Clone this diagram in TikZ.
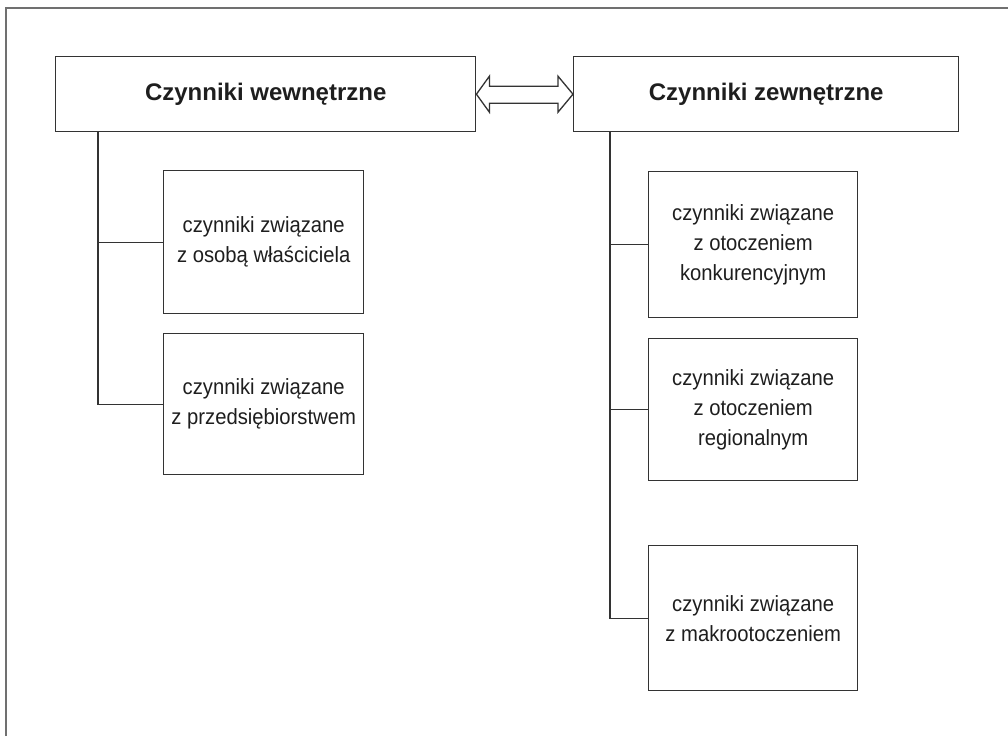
\documentclass[tikz,border=0pt]{standalone}
\usepackage{fontspec}
\setmainfont{Liberation Sans}
\newfontfamily\narrowsans[FakeStretch=0.92]{Liberation Sans}
\usetikzlibrary{calc}
\definecolor{linegray}{HTML}{333333}
\definecolor{textgray}{HTML}{1E1E1E}
\definecolor{framegray}{HTML}{707070}
\tikzset{
  head/.style={draw=linegray, line width=1.4pt, anchor=north west, inner sep=0pt,
    text=textgray, font=\fontsize{24}{28}\selectfont\bfseries, align=center},
  sub/.style={draw=linegray, line width=1.4pt, anchor=north west, inner sep=0pt,
    text=textgray, font=\narrowsans\fontsize{22}{30}\selectfont, align=center},
  link/.style={draw=linegray, line width=1.3pt},
  twoway/.style={draw=linegray, line width=1.3pt, fill=white, line join=miter}
}
\begin{document}
\begin{tikzpicture}[x=1pt,y=-1pt]
\useasboundingbox (0,0) rectangle (1008,736);
% outer frame, open to the right and bottom
\draw[framegray, line width=2pt] (6,736) -- (6,7.5) -- (1008,7.5);

% headers
\node[head, minimum width=420, minimum height=75] (hl) at (55,56) {Czynniki wewnętrzne};
\node[head, minimum width=385, minimum height=75] (hr) at (573,56) {Czynniki zewnętrzne};

% internal factors
\node[sub, minimum width=200, minimum height=143] (l1) at (163,170)
  {czynniki związane\\z osobą właściciela};
\node[sub, minimum width=200, minimum height=141] (l2) at (163,333)
  {czynniki związane\\z przedsiębiorstwem};

% external factors
\node[sub, minimum width=209, minimum height=146] (r1) at (648,171)
  {czynniki związane\\z otoczeniem\\konkurencyjnym};
\node[sub, minimum width=209, minimum height=142] (r2) at (648,338)
  {czynniki związane\\z otoczeniem\\regionalnym};
\node[sub, minimum width=209, minimum height=145] (r3) at (648,545)
  {czynniki związane\\z makrootoczeniem};

% tree connectors
\coordinate (lt) at ($(hl.south west)+(43,0)$);
\coordinate (rt) at ($(hr.south west)+(37,0)$);
\draw[link] (lt) |- (l2.west);
\draw[link] (lt |- l1.west) -- (l1.west);
\draw[link] (rt) |- (r3.west);
\draw[link] (rt |- r1.west) -- (r1.west);
\draw[link] (rt |- r2.west) -- (r2.west);

% two-way block arrow between the headers
\draw[twoway] (hl.east)
  -- ++(13,-18) -- ++(0,10) -- ($(hr.west)+(-15,-8)$) -- ++(0,-10)
  -- (hr.west)
  -- ++(-15,18) -- ++(0,-9) -- ($(hl.east)+(13,9)$) -- ++(0,9) -- cycle;
\end{tikzpicture}
\end{document}
